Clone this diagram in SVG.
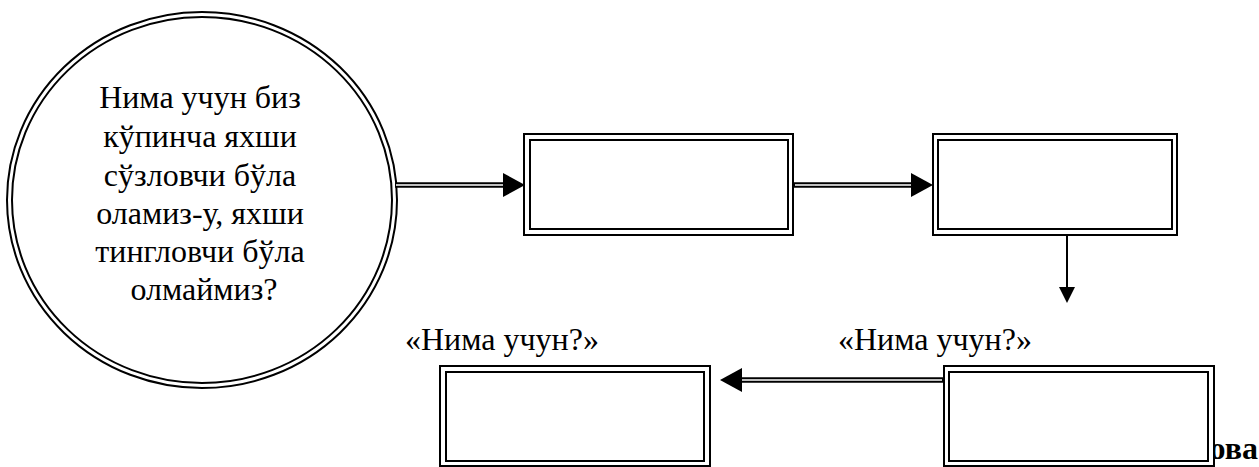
<svg xmlns="http://www.w3.org/2000/svg" width="1259" height="467" viewBox="0 0 1259 467">
<style>
  .t { font-family: "Liberation Serif", "Times New Roman", serif; font-size: 32px; fill: #000; }
  .tb { font-family: "Liberation Serif", "Times New Roman", serif; font-size: 32px; font-weight: bold; fill: #000; }
  .frame { fill: #fff; stroke: #000; stroke-width: 2; }
  .inner { fill: none; stroke: #000; stroke-width: 2; }
  .dbl { fill: none; stroke: #000; stroke-width: 5.5; }
  .gap { fill: none; stroke: #fff; stroke-width: 1.5; }
  .single { fill: none; stroke: #000; stroke-width: 2; }
</style>
<defs>
  <marker id="arrowL" viewBox="0 0 22 24" refX="1" refY="12" markerWidth="22" markerHeight="24" markerUnits="userSpaceOnUse" orient="auto">
    <polygon points="0,0 22,12 0,24" fill="#000"/>
  </marker>
  <marker id="arrowS" viewBox="0 0 16 16" refX="1" refY="8" markerWidth="16" markerHeight="16" markerUnits="userSpaceOnUse" orient="auto">
    <polygon points="0,0 16,8 0,16" fill="#000"/>
  </marker>
</defs>
<rect width="1259" height="467" fill="#fff"/>

<text class="tb" x="1258" y="459" text-anchor="end">ова</text>

<g id="question">
  <ellipse cx="202" cy="200" rx="195" ry="188" class="frame"/>
  <ellipse cx="202" cy="200" rx="190" ry="183" class="inner"/>
  <text class="t" text-anchor="middle">
    <tspan x="204" y="108">Нима учун биз</tspan>
    <tspan x="204" y="147">кўпинча яхши</tspan>
    <tspan x="204" y="186">сўзловчи бўла</tspan>
    <tspan x="204" y="224">оламиз-у, яхши</tspan>
    <tspan x="204" y="262">тингловчи бўла</tspan>
    <tspan x="204" y="300">олмаймиз?</tspan>
  </text>
</g>

<g id="box1">
  <rect x="524" y="134" width="269" height="101" class="frame"/>
  <rect x="530" y="140" width="258" height="89" class="inner"/>
</g>

<g id="box2">
  <rect x="933" y="134" width="244" height="101" class="frame"/>
  <rect x="938" y="140" width="234" height="89" class="inner"/>
</g>

<g id="box3">
  <rect x="440" y="366" width="270" height="100" class="frame"/>
  <rect x="446" y="372" width="258" height="89" class="inner"/>
</g>

<g id="box4">
  <rect x="944" y="366" width="270" height="100" class="frame"/>
  <rect x="949" y="372" width="259" height="89" class="inner"/>
</g>

<g id="labels">
  <text class="t" x="405" y="350">«Нима учун?»</text>
  <text class="t" x="838" y="350">«Нима учун?»</text>
</g>

<g id="connectors">
  <path d="M395,185 H504" class="dbl" marker-end="url(#arrowL)"/>
  <path d="M396,185 H503" class="gap"/>
  <path d="M794,185 H912" class="dbl" marker-end="url(#arrowL)"/>
  <path d="M795,185 H911" class="gap"/>
  <path d="M943,380 H741" class="dbl" marker-end="url(#arrowL)"/>
  <path d="M942,380 H742" class="gap"/>
  <path d="M1067,236 V288" class="single" marker-end="url(#arrowS)"/>
</g>
</svg>
